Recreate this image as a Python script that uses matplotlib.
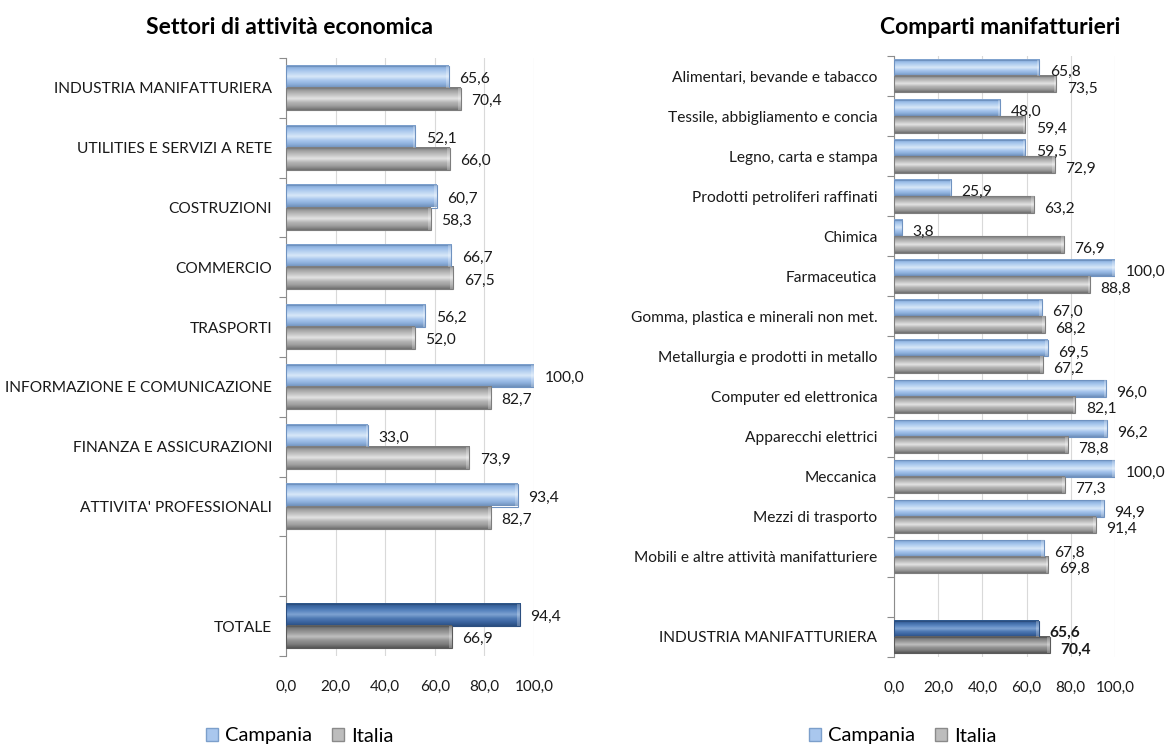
import numpy as np
import matplotlib
matplotlib.use("Agg")
import matplotlib.pyplot as plt
from matplotlib.patches import Patch
from matplotlib.colors import LinearSegmentedColormap

plt.rcParams['font.family'] = ['Lato', 'DejaVu Sans']

# --- data -------------------------------------------------------------
sector_labels = [
    "INDUSTRIA MANIFATTURIERA",
    "UTILITIES E SERVIZI A RETE",
    "COSTRUZIONI",
    "COMMERCIO",
    "TRASPORTI",
    "INFORMAZIONE E COMUNICAZIONE",
    "FINANZA E ASSICURAZIONI",
    "ATTIVITA' PROFESSIONALI",
    "",
    "TOTALE",
]
sector_campania = [65.6, 52.1, 60.7, 66.7, 56.2, 100.0, 33.0, 93.4, None, 94.4]
sector_italia = [70.4, 66.0, 58.3, 67.5, 52.0, 82.7, 73.9, 82.7, None, 66.9]

manuf_labels = [
    "Alimentari, bevande e tabacco",
    "Tessile, abbigliamento e concia",
    "Legno, carta e stampa",
    "Prodotti petroliferi raffinati",
    "Chimica",
    "Farmaceutica",
    "Gomma, plastica e minerali non met.",
    "Metallurgia e prodotti in metallo",
    "Computer ed elettronica",
    "Apparecchi elettrici",
    "Meccanica",
    "Mezzi di trasporto",
    "Mobili e altre attività manifatturiere",
    "",
    "INDUSTRIA MANIFATTURIERA",
]
manuf_campania = [65.8, 48.0, 59.5, 25.9, 3.8, 100.0, 67.0, 69.5, 96.0, 96.2,
                  100.0, 94.9, 67.8, None, 65.6]
manuf_italia = [73.5, 59.4, 72.9, 63.2, 76.9, 88.8, 68.2, 67.2, 82.1, 78.8,
                77.3, 91.4, 69.8, None, 70.4]

x_ticks = [0, 20, 40, 60, 80, 100]
x_ticklabels = ["0,0", "20,0", "40,0", "60,0", "80,0", "100,0"]

# --- styles -----------------------------------------------------------
blue_light = ["#7C9FCB", "#9ABDE8", "#B9D3F1", "#D9E8F8", "#A9C7EE", "#8DB0DC", "#6E8FBA"]
blue_dark = ["#2E5689", "#3F6BA6", "#5A86C0", "#7FA3D2", "#4F7AB4", "#3B64A0", "#2A4E80"]
gray_light = ["#7A7A7A", "#A3A3A3", "#C2C2C2", "#E4E4E4", "#B5B5B5", "#9C9C9C", "#6F6F6F"]
gray_dark = ["#5E5E5E", "#808080", "#9C9C9C", "#C0C0C0", "#949494", "#7E7E7E", "#555555"]

cmaps = {
    "blue": LinearSegmentedColormap.from_list("b", blue_light[::-1]),
    "blue_dark": LinearSegmentedColormap.from_list("bd", blue_dark[::-1]),
    "gray": LinearSegmentedColormap.from_list("g", gray_light[::-1]),
    "gray_dark": LinearSegmentedColormap.from_list("gd", gray_dark[::-1]),
}
edge = {"blue": "#6F92C0", "blue_dark": "#2C4F80", "gray": "#7D7D7D", "gray_dark": "#5A5A5A"}

grad = np.linspace(0, 1, 64).reshape(-1, 1)

LABEL_FS = 11.2
VALUE_FS = 11.2
TICK_FS = 11


def bevel_bar(ax, y, width, height, key):
    """Horizontal bar with a vertical shading gradient and a thin outline."""
    y0, y1 = y - height / 2, y + height / 2
    ax.imshow(grad[::-1], cmap=cmaps[key], aspect="auto",
              extent=[0, width, y1, y0], origin="upper",
              interpolation="bilinear", zorder=3)
    ax.add_patch(plt.Rectangle((0, y0), width, height, fill=False,
                               edgecolor=edge[key], linewidth=0.8, zorder=4))
    cap = min(width * 0.02, 1.2)
    ax.add_patch(plt.Rectangle((width - cap, y0), cap, height,
                               facecolor="white", alpha=0.25, linewidth=0, zorder=4))


def draw_panel(ax, labels, camp, ita, bar_h, ylabel_pad, bold_last, val_dy):
    n = len(labels)
    for i in range(n):
        if camp[i] is None:
            continue
        last = (i == n - 1)
        kb = "blue_dark" if last else "blue"
        kg = "gray_dark" if last else "gray"
        yc = i - bar_h / 2
        yi = i + bar_h / 2
        bevel_bar(ax, yc, camp[i], bar_h, kb)
        bevel_bar(ax, yi, ita[i], bar_h, kg)
        weight = "bold" if (last and bold_last) else "normal"
        for val, yy in ((camp[i], yc), (ita[i], yi)):
            ax.annotate(f"{val:.1f}".replace(".", ","), xy=(val, yy),
                        xytext=(7.5, -val_dy), textcoords="offset points",
                        ha="left", va="center", fontsize=VALUE_FS,
                        fontweight=weight, color="#1A1A1A",
                        annotation_clip=False, zorder=5)
    ax.set_xlim(0, 100)
    ax.set_ylim(n - 0.5, -0.5)
    ax.set_xticks(x_ticks)
    ax.set_xticklabels(x_ticklabels, fontsize=TICK_FS, color="#1A1A1A")
    ax.tick_params(axis="x", length=0, pad=17)
    ax.set_yticks(np.arange(n))
    ax.set_yticklabels(labels, fontsize=LABEL_FS, color="#1A1A1A")
    ax.tick_params(axis="y", length=0, pad=ylabel_pad)
    ax.set_yticks(np.arange(n + 1) - 0.5, minor=True)
    ax.tick_params(axis="y", which="minor", length=5, color="#8C8C8C", width=0.8)
    ax.grid(axis="x", color="#D9D9D9", linewidth=0.8, zorder=0)
    ax.set_axisbelow(True)
    for s in ("top", "right", "bottom"):
        ax.spines[s].set_visible(False)
    ax.spines["left"].set_color("#8C8C8C")
    ax.spines["left"].set_linewidth(0.8)


W, H = 1168, 744
fig = plt.figure(figsize=(W / 100, H / 100), dpi=100)

ax1 = fig.add_axes([286 / W, 1 - 656 / H, 248 / W, (656 - 58) / H])
draw_panel(ax1, sector_labels, sector_campania, sector_italia,
           bar_h=0.37, ylabel_pad=10, bold_last=False, val_dy=1.5)

ax2 = fig.add_axes([894 / W, 1 - 657 / H, 221 / W, (657 - 56) / H])
draw_panel(ax2, manuf_labels, manuf_campania, manuf_italia,
           bar_h=0.41, ylabel_pad=12, bold_last=True, val_dy=3)

fig.text(290 / W, 1 - 27 / H, "Settori di attività economica", ha="center",
         va="center", fontsize=16.5, fontweight="bold", color="#000000")
fig.text(1000 / W, 1 - 27 / H, "Comparti manifatturieri", ha="center",
         va="center", fontsize=16.5, fontweight="bold", color="#000000")

handles = [Patch(facecolor="#A9C7EE", edgecolor="#7C9FCB", label="Campania"),
           Patch(facecolor="#BDBDBD", edgecolor="#8A8A8A", label="Italia")]
for cx in (300 / W, 903 / W):
    fig.legend(handles=handles, loc="center", bbox_to_anchor=(cx, 1 - 736 / H),
               ncol=2, frameon=False, fontsize=14.5, handlelength=0.6,
               handleheight=0.6, handletextpad=0.35, columnspacing=1.0,
               borderpad=0.0)

fig.savefig("out.png", dpi=100, facecolor="white")
